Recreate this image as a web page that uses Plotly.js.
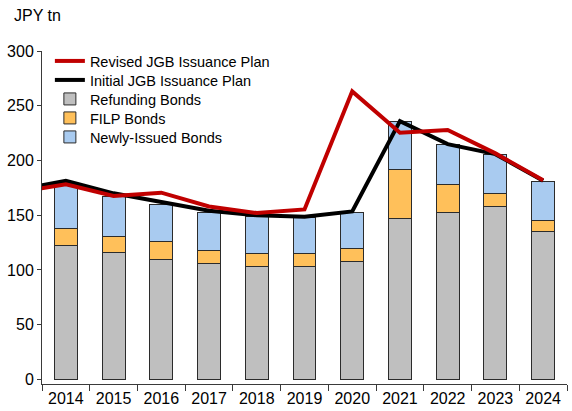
<!DOCTYPE html>
<html>
<head>
<meta charset="utf-8">
<script src="https://cdn.plot.ly/plotly-3.0.1.min.js"></script>
<style>
  html, body { margin: 0; padding: 0; background: #ffffff; }
  #chart { width: 572px; height: 411px; }
</style>
</head>
<body>
<div id="chart"></div>
<script>
// Fiscal years shown as bars
const years = ['2014', '2015', '2016', '2017', '2018', '2019', '2020', '2021', '2022', '2023', '2024'];
// Plan lines also carry the prior year, which runs in from the left edge
const lineYears = ['2013', '2014', '2015', '2016', '2017', '2018', '2019', '2020', '2021', '2022', '2023', '2024'];

// JGB issuance breakdown, JPY tn
const refundingBonds = [122.1, 116.3, 109.1, 106.1, 103.2, 103.1, 107.9, 147.2, 152.9, 157.6, 135.5];
const filpBonds      = [16.0, 14.0, 16.5, 12.0, 12.0, 12.0, 12.0, 45.0, 25.0, 12.0, 10.0];
const newlyIssued    = [41.3, 36.9, 34.4, 34.4, 33.7, 32.7, 32.6, 43.6, 36.9, 35.6, 35.4];

// Issuance plan totals, JPY tn
const initialPlan = [173.0, 181.5, 170.0, 162.2, 154.0, 149.9, 148.6, 153.5, 236.0, 215.0, 205.8, 181.4];
const revisedPlan = [171.0, 178.2, 167.5, 170.6, 158.0, 152.0, 155.3, 263.2, 225.4, 227.9, 206.5, 182.0];

const barLine = { color: '#2b2b2b', width: 1 };
const barWidth = 0.48;

const traces = [
  {
    type: 'bar', name: 'Refunding Bonds', x: years, y: refundingBonds,
    marker: { color: '#BFBFBF', line: barLine }, width: barWidth, legend: 'legend3'
  },
  {
    type: 'bar', name: 'FILP Bonds', x: years, y: filpBonds,
    marker: { color: '#FFC05A', line: barLine }, width: barWidth, legend: 'legend4'
  },
  {
    type: 'bar', name: 'Newly-Issued Bonds', x: years, y: newlyIssued,
    marker: { color: '#A9CBF0', line: barLine }, width: barWidth, legend: 'legend5'
  },
  {
    type: 'scatter', mode: 'lines', name: 'Initial JGB Issuance Plan', x: lineYears, y: initialPlan,
    line: { color: '#000000', width: 4 }, legend: 'legend2'
  },
  {
    type: 'scatter', mode: 'lines', name: 'Revised JGB Issuance Plan', x: lineYears, y: revisedPlan,
    line: { color: '#C00000', width: 4 }, legend: 'legend'
  }
];

const axisColor = '#3a3a3a';
const fontFamily = 'Liberation Sans, Arial, sans-serif';

const M = { l: 42, r: 5, t: 51, b: 27 };
const plotH = 411 - M.t - M.b;
// legend rows, one entry each, stacked down the upper left of the plot
const rowY = [61, 80, 99, 118, 137];
function legendAt(i) {
  return {
    x: 0.015, xanchor: 'left',
    y: 1 - (rowY[i] - M.t) / plotH, yanchor: 'middle',
    bgcolor: 'rgba(255,255,255,0)',
    font: { family: fontFamily, size: 14.5, color: '#000000' },
    itemwidth: 30
  };
}

const layout = {
  width: 572,
  height: 411,
  margin: { l: M.l, r: M.r, t: M.t, b: M.b, pad: 0 },
  paper_bgcolor: '#ffffff',
  plot_bgcolor: '#ffffff',
  font: { family: fontFamily, size: 16, color: '#000000' },
  barmode: 'stack',
  showlegend: true,
  legend: legendAt(0),
  legend2: legendAt(1),
  legend3: legendAt(2),
  legend4: legendAt(3),
  legend5: legendAt(4),
  xaxis: {
    type: 'category',
    categoryorder: 'array', categoryarray: lineYears,
    range: [0.5, 11.5],
    showline: true, linecolor: axisColor, linewidth: 1,
    ticks: 'outside', tickson: 'boundaries', ticklen: 6, tickcolor: axisColor,
    showgrid: false, zeroline: false,
    tickfont: { family: fontFamily, size: 16 },
    fixedrange: true
  },
  yaxis: {
    range: [-4.3, 300.1],
    dtick: 50, tick0: 0,
    showline: true, linecolor: axisColor, linewidth: 1,
    ticks: 'outside', ticklen: 4, tickcolor: axisColor,
    showgrid: false, zeroline: false,
    tickfont: { family: fontFamily, size: 16 },
    fixedrange: true
  },
  annotations: [
    {
      text: 'JPY tn', xref: 'paper', yref: 'paper',
      x: -0.057, y: 1.108, xanchor: 'left', yanchor: 'middle',
      showarrow: false, font: { family: fontFamily, size: 16, color: '#000000' }
    }
  ]
};

Plotly.newPlot('chart', traces, layout, { displayModeBar: false, staticPlot: true });
</script>
</body>
</html>
